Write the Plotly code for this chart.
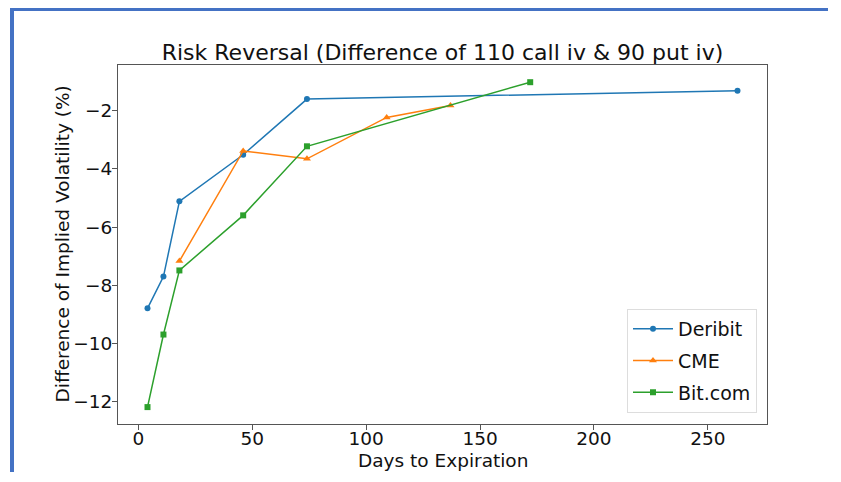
import plotly.graph_objects as go

deribit_days = [4, 11, 18, 46, 74, 263]
deribit_rr = [-8.79, -7.70, -5.12, -3.52, -1.61, -1.32]

cme_days = [18, 46, 74, 109, 137]
cme_rr = [-7.17, -3.39, -3.66, -2.24, -1.83]

bit_days = [4, 11, 18, 46, 74, 172]
bit_rr = [-12.18, -9.69, -7.49, -5.60, -3.23, -1.03]

x_ticks = [0, 50, 100, 150, 200, 250]
y_ticks = [-12, -10, -8, -6, -4, -2]

FONT = "DejaVu Sans"
W, H = 820, 464
L, R, T, B = 110, 61, 57, 48
PW, PH = W - L - R, H - T - B

fig = go.Figure()
fig.add_trace(go.Scatter(x=deribit_days, y=deribit_rr, name="Deribit", legendgroup="Deribit",
                         mode="lines+markers", line=dict(color="#1f77b4", width=1.5),
                         marker=dict(symbol="circle", size=6, color="#1f77b4")))
fig.add_trace(go.Scatter(x=cme_days, y=cme_rr, name="CME", legendgroup="CME",
                         mode="lines+markers", line=dict(color="#ff7f0e", width=1.5),
                         marker=dict(symbol="triangle-up", size=7, color="#ff7f0e")))
fig.add_trace(go.Scatter(x=bit_days, y=bit_rr, name="Bit.com", legendgroup="Bit.com",
                         mode="lines+markers", line=dict(color="#2ca02c", width=1.5),
                         marker=dict(symbol="square", size=6, color="#2ca02c")))

axis_common = dict(showgrid=False, zeroline=False, showline=True, linecolor="#555555",
                   linewidth=1.2, mirror=True, ticks="outside", ticklen=5, tickcolor="#555555",
                   tickfont=dict(family=FONT, size=18.5, color="#111111"))

fig.update_layout(
    width=W, height=H,
    margin=dict(l=L, r=R, t=T, b=B, autoexpand=False),
    paper_bgcolor="white", plot_bgcolor="white",
    font=dict(family=FONT, color="#111111"),
    title=dict(text="Risk Reversal (Difference of 110 call iv & 90 put iv)",
               x=0.5, xref="paper", xanchor="center", y=1, yref="paper", yanchor="bottom",
               pad=dict(b=5), font=dict(family=FONT, size=22, color="#111111")),
    xaxis=dict(range=[-8.95, 275.95], tickvals=x_ticks, ticklabelstandoff=-7, **axis_common),
    yaxis=dict(range=[-12.76, -0.44], tickvals=y_ticks, ticktext=["\u2212" + str(-v) for v in y_ticks],
               ticklabelstandoff=-4, **axis_common),
    legend=dict(x=(749 - L) / PW, y=(PH - 405 + T) / PH, xanchor="right", yanchor="bottom",
                bgcolor="rgba(255,255,255,0.8)", bordercolor="#dddddd", borderwidth=1,
                font=dict(family=FONT, size=19), itemwidth=40, tracegroupgap=4),
    showlegend=True,
)

# axis titles (placed like matplotlib's)
fig.add_annotation(text="Days to Expiration", xref="paper", yref="paper", x=0.5,
                   y=-(452 - (T + PH)) / PH, xanchor="center", yanchor="middle", showarrow=False,
                   font=dict(family=FONT, size=18.5, color="#111111"))
fig.add_annotation(text="Difference of Implied Volatility (%)", xref="paper", yref="paper",
                   x=(54 - L) / PW, y=0.5, xanchor="center", yanchor="middle", textangle=-90,
                   showarrow=False, font=dict(family=FONT, size=18.5, color="#111111"))

# blue screenshot frame (top and left edges)
fig.add_shape(type="rect", xref="paper", yref="paper", x0=(2 - L) / PW, x1=1 + R / PW,
              y0=1 + (T - 3) / PH, y1=1 + T / PH, fillcolor="#4472C4", line=dict(width=0), layer="above")
fig.add_shape(type="rect", xref="paper", yref="paper", x0=(2 - L) / PW, x1=(6 - L) / PW,
              y0=-B / PH, y1=1 + T / PH, fillcolor="#4472C4", line=dict(width=0), layer="above")

fig.write_html("out.html")
